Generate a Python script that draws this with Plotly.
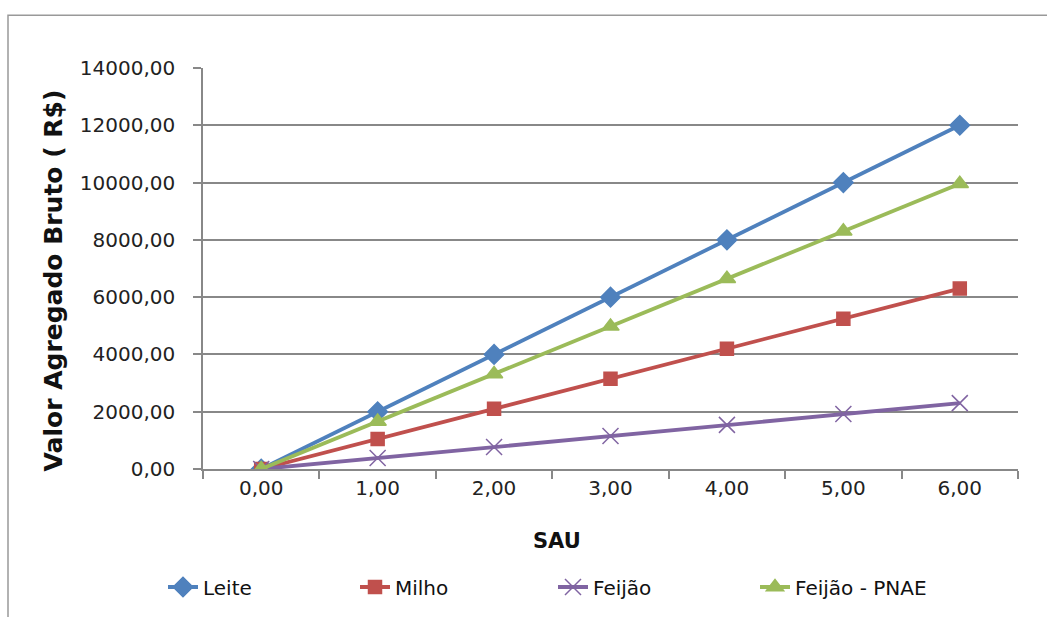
import plotly.graph_objects as go

# SAU categories (x axis) and gross added value per crop
sau = ["0,00", "1,00", "2,00", "3,00", "4,00", "5,00", "6,00"]
leite = [0, 2000, 4000, 6000, 8000, 10000, 12000]
milho = [0, 1050, 2100, 3150, 4200, 5250, 6300]
feijao = [0, 385, 770, 1150, 1540, 1920, 2300]
feijao_pnae = [0, 1660, 3320, 4980, 6640, 8300, 9960]

y_tickvals = [0, 2000, 4000, 6000, 8000, 10000, 12000, 14000]
y_ticktext = ["0,00", "2000,00", "4000,00", "6000,00", "8000,00",
              "10000,00", "12000,00", "14000,00"]

FONT = "DejaVu Sans"
W, H = 1047, 617
L, R, T, B = 203, 29, 68, 147
pw, ph = W - L - R, H - T - B


def px_x(p):
    return (p - L) / pw


def px_y(p):
    return (H - B - p) / ph


# name, values, colour, marker symbol, marker size, legend id, legend left (px)
series = [
    ("Leite", leite, "#4F81BD", "diamond", 15, "legend", 163),
    ("Milho", milho, "#C0504D", "square", 13, "legend2", 355),
    ("Feijão", feijao, "#8064A2", "x-thin-open", 16, "legend3", 553),
    ("Feijão - PNAE", feijao_pnae, "#9BBB59", "triangle-up", 15, "legend4", 755),
]

fig = go.Figure()
legends = {}
for name, vals, color, sym, size, lg, lx in series:
    fig.add_trace(go.Scatter(
        x=sau, y=vals, name=name, mode="lines+markers", legend=lg,
        line=dict(color=color, width=3.8),
        marker=dict(symbol=sym, size=size, color=color,
                    line=dict(color=color, width=1.5)),
    ))
    legends[lg] = dict(
        orientation="h", x=px_x(lx), xanchor="left",
        y=px_y(587), yanchor="middle",
        bgcolor="rgba(0,0,0,0)",
        font=dict(family=FONT, size=20, color="#111111"),
    )

fig.update_layout(
    width=W, height=H,
    margin=dict(l=L, r=R, t=T, b=B),
    paper_bgcolor="white", plot_bgcolor="white",
    font=dict(family=FONT, size=20, color="#222222"),
    showlegend=True,
    **legends,
    xaxis=dict(
        type="category", range=[-0.5, 6.5], tickson="boundaries",
        ticks="outside", ticklen=8, tickcolor="#888888", tickwidth=1.5,
        showline=True, linecolor="#888888", linewidth=1.5,
        showgrid=False, zeroline=False,
        tickfont=dict(family=FONT, size=20, color="#222222"),
    ),
    yaxis=dict(
        range=[0, 14000], tickvals=y_tickvals, ticktext=y_ticktext,
        ticks="outside", ticklen=8, tickcolor="#888888", tickwidth=1.5,
        showline=True, linecolor="#888888", linewidth=1.5,
        showgrid=True, gridcolor="#888888", gridwidth=1.5,
        zeroline=False, ticklabelstandoff=14,
        tickfont=dict(family=FONT, size=20, color="#222222"),
    ),
    annotations=[
        dict(
            text="<b>SAU</b>", xref="paper", yref="paper",
            x=px_x(557), y=px_y(542),
            xanchor="center", yanchor="middle", showarrow=False,
            font=dict(family=FONT, size=21, color="#111111"),
        ),
        dict(
            text="<b>Valor Agregado Bruto ( R$)</b>", xref="paper", yref="paper",
            x=px_x(53), y=px_y(281), textangle=-90,
            xanchor="center", yanchor="middle", showarrow=False,
            font=dict(family=FONT, size=25, color="#111111"),
        ),
    ],
    shapes=[dict(
        type="rect", xref="paper", yref="paper",
        x0=px_x(8), x1=px_x(1080),
        y0=px_y(660), y1=px_y(15),
        line=dict(color="#999999", width=1.5), fillcolor="rgba(0,0,0,0)",
        layer="below",
    )],
)

fig.write_html("out.html")
